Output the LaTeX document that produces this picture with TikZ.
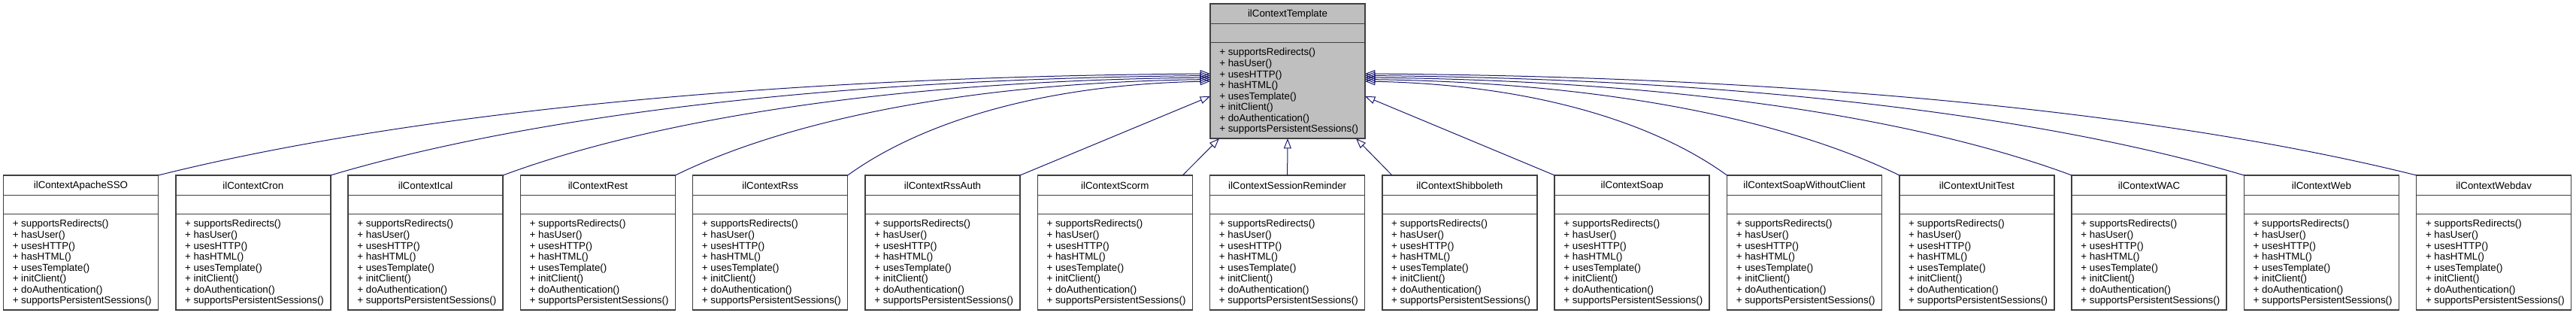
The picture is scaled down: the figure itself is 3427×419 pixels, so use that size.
\documentclass[tikz,border=0pt]{standalone}
\usepackage{fontspec}
\setmainfont{Liberation Sans}
\usetikzlibrary{arrows.meta,calc}

\definecolor{edgeblue}{HTML}{191970}

\newcommand{\contextops}{+ supportsRedirects()\\+ hasUser()\\+ usesHTTP()\\+ hasHTML()\\+ usesTemplate()\\+ initClient()\\+ doAuthentication()\\+ supportsPersistentSessions()}

\tikzset{
  classbox/.style={draw=black!75, line width=1.1pt, fill=white, anchor=north west,
    minimum width=154.5pt, minimum height=134.25pt, inner sep=0pt, outer sep=0pt},
  sepline/.style={draw=black!75, line width=1.1pt},
  classname/.style={font=\fontsize{10}{12}\selectfont, inner sep=0pt},
  methods/.style={font=\fontsize{10}{10.9}\selectfont, align=left, inner sep=0pt, anchor=north west},
  inherit/.style={draw=edgeblue, line width=0.75pt, -{Triangle[open,length=10pt,width=7.5pt]}},
}

\begin{document}
\begin{tikzpicture}[x=0.75pt,y=-0.75pt]
	\useasboundingbox (0,0) rectangle (3427,419);
	% base class
	\node[classbox,fill=black!25] (tmpl) at (1610,5) {};
	\node[classname] (tmpl-name) at ($(tmpl.north)+(0,14)$) {ilContextTemplate};
	\draw[sepline] ($(tmpl.north west)+(0,26.5)$) -- ($(tmpl.north east)+(0,26.5)$);
	\draw[sepline] ($(tmpl.north west)+(0,51.5)$) -- ($(tmpl.north east)+(0,51.5)$);
	\node[methods] (tmpl-ops) at ($(tmpl.north west)+(12,59)$) {\contextops};
	% derived classes
	\foreach \cname [count=\i from 0] in {ApacheSSO,Cron,Ical,Rest,Rss,RssAuth,Scorm,SessionReminder,Shibboleth,Soap,SoapWithoutClient,UnitTest,WAC,Web,Webdav}{
		\node[classbox] (\cname) at ({4.5+229.3*\i},233) {};
		\node[classname] (\cname-name) at ($(\cname.north)+(0,14)$) {ilContext\cname};
		\draw[sepline] ($(\cname.north west)+(0,26.5)$) -- ($(\cname.north east)+(0,26.5)$);
		\draw[sepline] ($(\cname.north west)+(0,51.5)$) -- ($(\cname.north east)+(0,51.5)$);
		\node[methods] (\cname-ops) at ($(\cname.north west)+(12,59)$) {\contextops};
	}
	% inheritance, left side
	\foreach \cname/\i/\dy in {ApacheSSO/0/3.5,Cron/1/6,Ical/2/8.5,Rest/3/11,Rss/4/13.5}{
		\pgfmathsetmacro{\dx}{1610-(210.5+229.3*\i)}
		\draw[inherit] (\cname.north east) .. controls ($(\cname.north east)+({0.18*\dx},-63)$) and ($(tmpl.west)+({-0.5*\dx},\dy+5)$) .. ($(tmpl.west)+(0,\dy)$);
	}
	\draw[inherit] (RssAuth.north east) -- ($(tmpl.west)+(0,33.5)$);
	\draw[inherit] ($(Scorm.north east)+(-13,0)$) -- ($(tmpl.south west)+(12,0)$);
	\draw[inherit] (SessionReminder.north) -- (tmpl.south);
	\draw[inherit] ($(Shibboleth.north west)+(13,0)$) -- ($(tmpl.south east)+(-12,0)$);
	\draw[inherit] (Soap.north west) -- ($(tmpl.east)+(0,33.5)$);
	% inheritance, right side
	\foreach \cname/\i/\dy in {SoapWithoutClient/10/13.5,UnitTest/11/11,WAC/12/8.5,Web/13/6,Webdav/14/3.5}{
		\pgfmathsetmacro{\dx}{(4.5+229.3*\i)-1816}
		\draw[inherit] (\cname.north west) .. controls ($(\cname.north west)+({-0.18*\dx},-63)$) and ($(tmpl.east)+({0.5*\dx},\dy+5)$) .. ($(tmpl.east)+(0,\dy)$);
	}
\end{tikzpicture}
\end{document}
